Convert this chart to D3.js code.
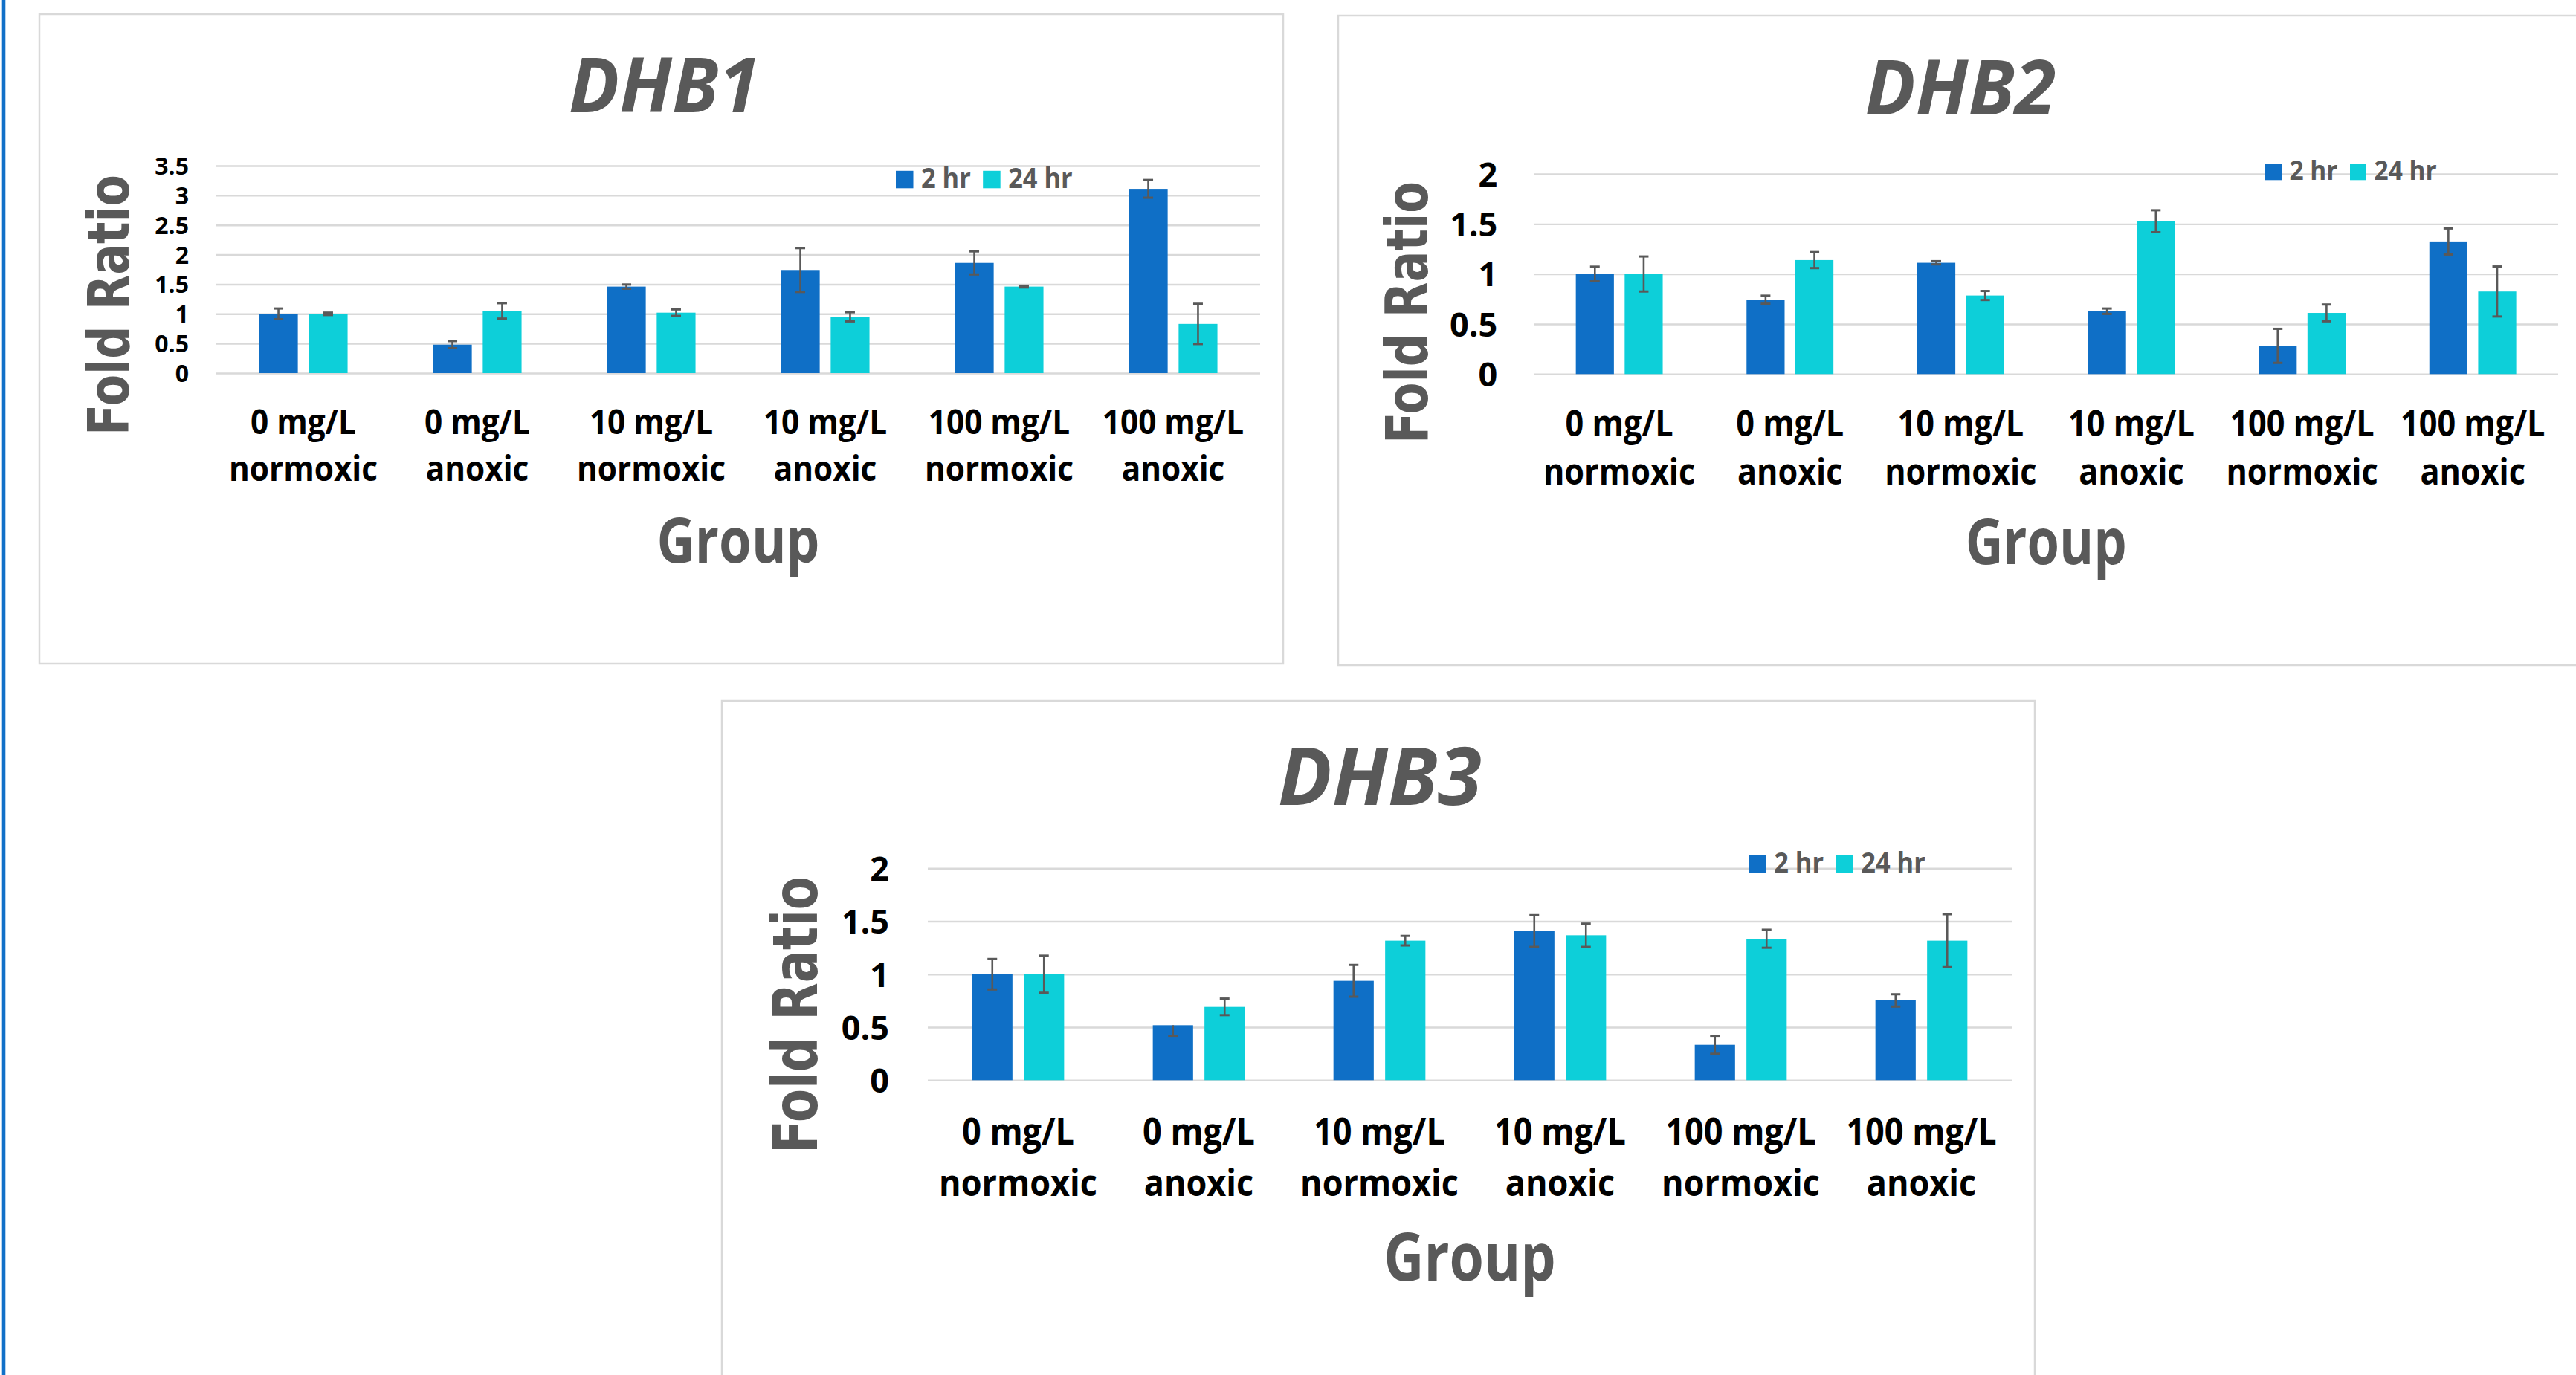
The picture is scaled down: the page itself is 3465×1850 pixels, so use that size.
<!DOCTYPE html>
<html><head><meta charset="utf-8">
<script src="https://cdn.jsdelivr.net/npm/d3@7"></script>
<style>html,body{margin:0;padding:0;background:#fff;} svg{display:block;}</style>
</head><body>
<svg id="c" width="3465" height="1850"></svg>
<script>
// ---------- data ----------
const doseLabels = ["0 mg/L","0 mg/L","10 mg/L","10 mg/L","100 mg/L","100 mg/L"];
const conditionLabels = ["normoxic","anoxic","normoxic","anoxic","normoxic","anoxic"];
const seriesNames = ["2 hr","24 hr"];

const dhb1_2hr      = [1.00, 0.48, 1.46, 1.74, 1.86, 3.11];
const dhb1_2hr_err  = [0.09, 0.06, 0.035, 0.37, 0.195, 0.15];
const dhb1_24hr     = [1.00, 1.05, 1.02, 0.95, 1.46, 0.83];
const dhb1_24hr_err = [0.02, 0.13, 0.055, 0.077, 0.015, 0.34];

const dhb2_2hr      = [1.00, 0.743, 1.112, 0.628, 0.282, 1.325];
const dhb2_2hr_err  = [0.073, 0.04, 0.016, 0.027, 0.17, 0.13];
const dhb2_24hr     = [1.00, 1.139, 0.785, 1.527, 0.611, 0.825];
const dhb2_24hr_err = [0.175, 0.08, 0.045, 0.11, 0.084, 0.25];

const dhb3_2hr        = [1.00, 0.519, 0.938, 1.408, 0.334, 0.753];
const dhb3_2hr_errUp  = [0.144, 0.0, 0.15, 0.15, 0.085, 0.058];
const dhb3_2hr_errDn  = [0.144, 0.10, 0.15, 0.15, 0.085, 0.058];
const dhb3_24hr       = [1.00, 0.692, 1.317, 1.368, 1.335, 1.317];
const dhb3_24hr_err   = [0.175, 0.078, 0.045, 0.11, 0.085, 0.25];

const ticksDHB1 = [0, 0.5, 1, 1.5, 2, 2.5, 3, 3.5];
const tickLabelsDHB1 = ["0","0.5","1","1.5","2","2.5","3","3.5"];
const ticksDHB23 = [0, 0.5, 1, 1.5, 2];
const tickLabelsDHB23 = ["0","0.5","1","1.5","2"];

// ---------- style ----------
const COLORS = ["#0f6fc6", "#0dcfd9"];
const GRAY = "#595959";
const GRID = "#d9d9d9";
const FONT = "'Open Sans', 'Noto Sans', sans-serif";
const AXFONT = "'DejaVu Sans', Verdana, sans-serif";

const svg = d3.select("#c");
svg.append("rect").attr("x",0).attr("y",0).attr("width",3465).attr("height",1850).attr("fill","#fff");
svg.append("rect").attr("x",2.7).attr("y",0).attr("width",4.6).attr("height",1850).attr("fill","#1170c8");

function fitLen(sel, target){
  sel.attr("textLength", target).attr("lengthAdjust","spacingAndGlyphs");
}
function squeeze(sel, k){
  sel.each(function(){
    const L = this.getComputedTextLength();
    this.setAttribute("textLength", L*k);
    this.setAttribute("lengthAdjust","spacingAndGlyphs");
  });
}

function drawChart(cfg){
  const g = svg.append("g");
  const P = cfg.panel, p = cfg.plot;
  g.append("rect").attr("x",P.x).attr("y",P.y).attr("width",P.w).attr("height",P.h)
    .attr("fill","#fff").attr("stroke",GRID).attr("stroke-width",2.5);

  const x = d3.scaleBand().domain(d3.range(doseLabels.length)).range([p.x0, p.x1]).padding(0);
  const y = d3.scaleLinear().domain([0, cfg.max]).range([p.y0, p.yTop]);
  const bw = x.bandwidth();
  const barW = bw*0.223, gap = bw*0.063;
  const xs = d3.scaleBand().domain(seriesNames)
    .range([-(barW+gap/2), barW+gap/2]).paddingInner(gap/(barW+gap)).paddingOuter(0);

  // grid + ticks
  const ax = d3.axisLeft(y).tickValues(cfg.ticks)
    .tickFormat((d,i)=>cfg.tickLabels[i])
    .tickSize(-(p.x1-p.x0)).tickPadding(cfg.tickPad);
  const axG = g.append("g").attr("transform",`translate(${p.x0},0)`).call(ax);
  axG.select(".domain").remove();
  axG.selectAll(".tick line").attr("stroke",GRID).attr("stroke-width",2.4);
  axG.selectAll(".tick text").attr("font-family",FONT).attr("font-weight",700)
    .attr("font-size",cfg.tickSize).attr("fill","#000").attr("dy","0.36em");

  // bars
  const series = [
    {name: seriesNames[0], vals: cfg.s1, up: cfg.e1up, dn: cfg.e1dn, color: COLORS[0]},
    {name: seriesNames[1], vals: cfg.s2, up: cfg.e2up, dn: cfg.e2dn, color: COLORS[1]}
  ];
  series.forEach(s=>{
    const cx = i => x(i) + bw/2 + xs(s.name);
    g.append("g").selectAll("rect").data(s.vals).join("rect")
      .attr("x",(d,i)=>cx(i)).attr("width",xs.bandwidth())
      .attr("y",d=>y(d)).attr("height",d=>y(0)-y(d))
      .attr("fill",s.color);
    const eg = g.append("g").attr("stroke",GRAY).attr("fill","none");
    s.vals.forEach((v,i)=>{
      const mx = cx(i) + xs.bandwidth()/2;
      const yt = y(v + s.up[i]), yb = y(v - s.dn[i]);
      eg.append("line").attr("x1",mx).attr("x2",mx).attr("y1",yt).attr("y2",yb).attr("stroke-width",2.6);
      if (s.up[i] > 0) eg.append("line").attr("x1",mx-6.5).attr("x2",mx+6.5).attr("y1",yt).attr("y2",yt).attr("stroke-width",3);
      if (s.dn[i] > 0) eg.append("line").attr("x1",mx-6.5).attr("x2",mx+6.5).attr("y1",yb).attr("y2",yb).attr("stroke-width",3);
    });
  });

  // category labels
  const cat = g.append("g").attr("font-family",FONT).attr("font-weight",700)
    .attr("font-size",cfg.catSize).attr("fill","#000").attr("text-anchor","middle");
  const l1 = cat.selectAll("text.l1").data(doseLabels).join("text").attr("class","l1")
    .attr("x",(d,i)=>x(i)+bw/2).attr("y",cfg.catB1).text(d=>d);
  const l2 = cat.selectAll("text.l2").data(conditionLabels).join("text").attr("class","l2")
    .attr("x",(d,i)=>x(i)+bw/2).attr("y",cfg.catB2).text(d=>d);
  squeeze(l1, 0.9); squeeze(l2, 0.9);

  // title
  const t = g.append("text").attr("x",cfg.titleX).attr("y",cfg.titleY)
    .attr("text-anchor","middle").attr("font-family",FONT).attr("font-weight",700)
    .attr("font-style","italic").attr("font-size",cfg.titleSize).attr("fill",GRAY).text(cfg.title);
  fitLen(t, cfg.titleW);

  // y axis title
  const yl = g.append("text")
    .attr("transform",`translate(${cfg.ylX},${cfg.ylY}) rotate(-90)`)
    .attr("text-anchor","middle").attr("font-family",AXFONT).attr("font-weight",700)
    .attr("font-size",cfg.ylSize).attr("fill",GRAY).text("Fold Ratio");
  fitLen(yl, cfg.ylW);

  // x axis title
  const xl = g.append("text").attr("x",(p.x0+p.x1)/2).attr("y",cfg.grpY)
    .attr("text-anchor","middle").attr("font-family",FONT).attr("font-weight",700)
    .attr("font-size",cfg.grpSize).attr("fill",GRAY).text("Group");
  fitLen(xl, cfg.grpW);

  // legend
  let lx = cfg.legX;
  seriesNames.forEach((name,i)=>{
    g.append("rect").attr("x",lx).attr("y",cfg.legY - cfg.legSq).attr("width",cfg.legSq).attr("height",cfg.legSq)
      .attr("fill",COLORS[i]);
    lx += cfg.legSq + 10.5;
    const tx = g.append("text").attr("x",lx).attr("y",cfg.legY).attr("font-family",FONT).attr("font-weight",700)
      .attr("font-size",cfg.legSize).attr("fill",GRAY).text(name);
    squeeze(tx, 0.93);
    lx += tx.node().getComputedTextLength()*0.93 + 21;
  });
}

drawChart({
  panel:{x:53, y:19, w:1673, h:874},
  plot:{x0:291, x1:1695, y0:502, yTop:223},
  max:3.5, ticks:ticksDHB1, tickLabels:tickLabelsDHB1, tickSize:32, tickPad:37,
  s1:dhb1_2hr, e1up:dhb1_2hr_err, e1dn:dhb1_2hr_err,
  s2:dhb1_24hr, e2up:dhb1_24hr_err, e2dn:dhb1_24hr_err,
  catSize:47, catB1:584, catB2:647,
  title:"DHB1", titleX:893.5, titleY:151, titleSize:102, titleW:257,
  ylX:173, ylY:410.5, ylSize:77, ylW:351,
  grpY:757, grpSize:85, grpW:219,
  legX:1205, legY:253.3, legSq:23.5, legSize:37
});

drawChart({
  panel:{x:1800, y:21, w:1674, h:874},
  plot:{x0:2063.3, x1:3441, y0:503.3, yTop:234},
  max:2, ticks:ticksDHB23, tickLabels:tickLabelsDHB23, tickSize:45, tickPad:49,
  s1:dhb2_2hr, e1up:dhb2_2hr_err, e1dn:dhb2_2hr_err,
  s2:dhb2_24hr, e2up:dhb2_24hr_err, e2dn:dhb2_24hr_err,
  catSize:48, catB1:587, catB2:651.5,
  title:"DHB2", titleX:2637, titleY:153.8, titleSize:103, titleW:257,
  ylX:1919.7, ylY:420.5, ylSize:77.6, ylW:353,
  grpY:759, grpSize:86, grpW:217,
  legX:3047, legY:242.3, legSq:22, legSize:36
});

drawChart({
  panel:{x:971, y:943, w:1766, h:960},
  plot:{x0:1248, x1:2706, y0:1453.3, yTop:1168.3},
  max:2, ticks:ticksDHB23, tickLabels:tickLabelsDHB23, tickSize:45, tickPad:52,
  s1:dhb3_2hr, e1up:dhb3_2hr_errUp, e1dn:dhb3_2hr_errDn,
  s2:dhb3_24hr, e2up:dhb3_24hr_err, e2dn:dhb3_24hr_err,
  catSize:50, catB1:1540, catB2:1609,
  title:"DHB3", titleX:1856, titleY:1082.6, titleSize:107, titleW:274,
  ylX:1099, ylY:1365.6, ylSize:84, ylW:373,
  grpY:1723, grpSize:89, grpW:231.6,
  legX:2352.3, legY:1174, legSq:23.4, legSize:37
});
</script>
</body></html>
